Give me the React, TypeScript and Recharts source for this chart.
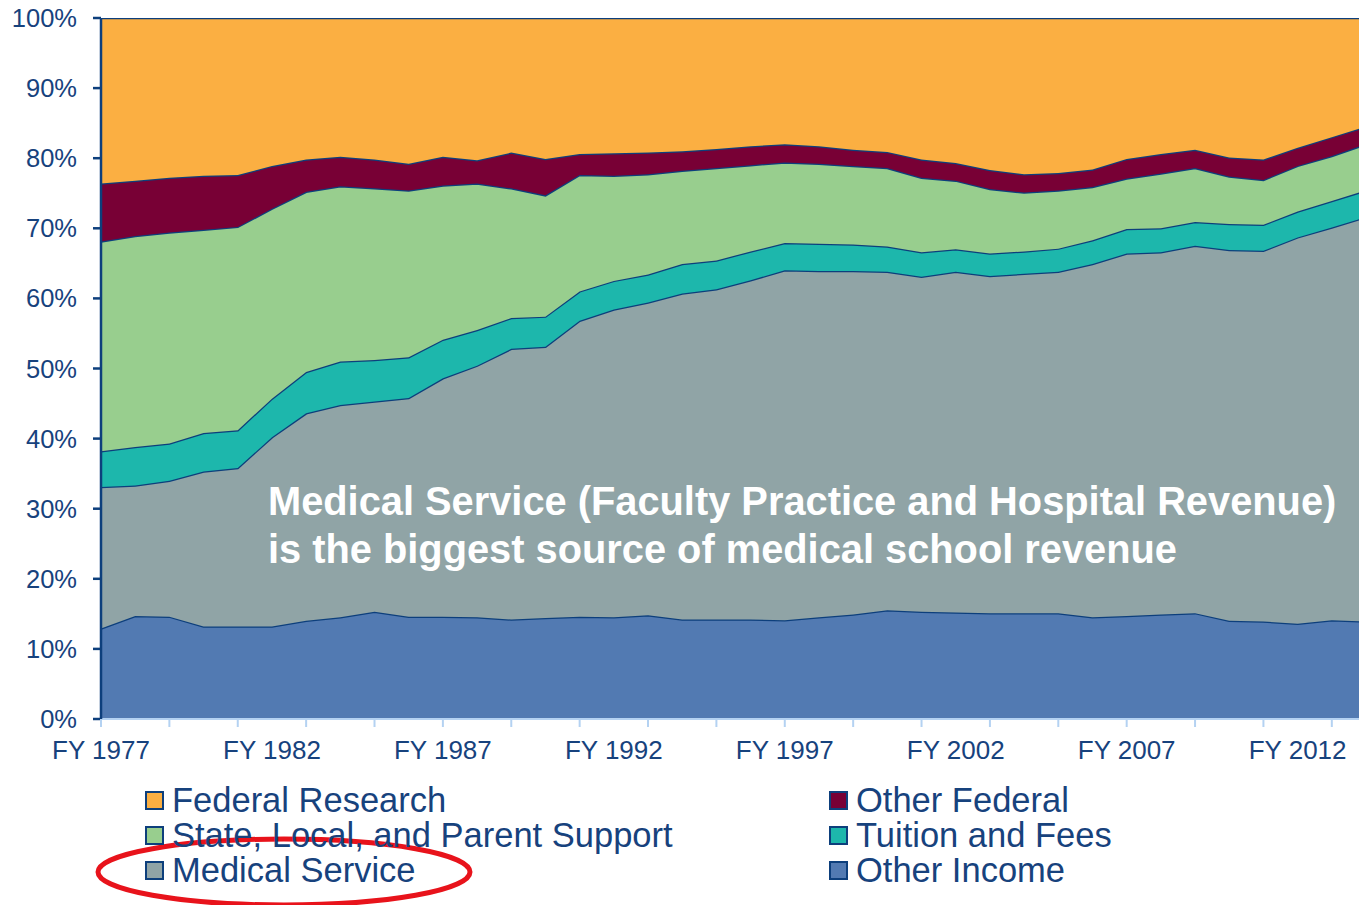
import React from 'react'
import { AreaChart, Area, XAxis, YAxis } from 'recharts'

const years = [
  'FY 1977', 'FY 1978', 'FY 1979', 'FY 1980', 'FY 1981', 'FY 1982', 'FY 1983', 'FY 1984',
  'FY 1985', 'FY 1986', 'FY 1987', 'FY 1988', 'FY 1989', 'FY 1990', 'FY 1991', 'FY 1992',
  'FY 1993', 'FY 1994', 'FY 1995', 'FY 1996', 'FY 1997', 'FY 1998', 'FY 1999', 'FY 2000',
  'FY 2001', 'FY 2002', 'FY 2003', 'FY 2004', 'FY 2005', 'FY 2006', 'FY 2007', 'FY 2008',
  'FY 2009', 'FY 2010', 'FY 2011', 'FY 2012', 'FY 2013', 'FY 2014',
]

// shares of total revenue, %
const otherIncome = [12.9, 14.7, 14.6, 13.2, 13.2, 13.2, 14.0, 14.5, 15.3, 14.6, 14.6, 14.5, 14.2, 14.4, 14.6, 14.5, 14.8, 14.2, 14.2, 14.2, 14.1, 14.5, 14.9, 15.5, 15.3, 15.2, 15.1, 15.1, 15.1, 14.5, 14.7, 14.9, 15.1, 14.0, 13.9, 13.6, 14.1, 13.9]
const medicalService = [20.2, 18.6, 19.4, 22.1, 22.6, 27.0, 29.6, 30.3, 30.0, 31.2, 34.0, 35.9, 38.6, 38.7, 42.2, 43.9, 44.6, 46.5, 47.1, 48.4, 49.9, 49.4, 49.0, 48.3, 47.8, 48.6, 48.1, 48.4, 48.7, 50.4, 51.7, 51.7, 52.4, 52.9, 52.9, 55.1, 56.0, 57.7]
const tuitionFees = [5.1, 5.5, 5.3, 5.5, 5.4, 5.5, 5.9, 6.2, 5.9, 5.8, 5.5, 5.1, 4.4, 4.3, 4.2, 4.1, 4.0, 4.2, 4.1, 4.1, 3.9, 3.9, 3.8, 3.6, 3.5, 3.2, 3.2, 3.2, 3.3, 3.4, 3.5, 3.4, 3.4, 3.7, 3.7, 3.7, 3.8, 3.8]
const stateLocal = [29.9, 30.1, 30.1, 29.0, 29.0, 27.1, 25.7, 25.0, 24.5, 23.8, 22.0, 20.9, 18.5, 17.3, 16.6, 15.0, 14.3, 13.3, 13.2, 12.3, 11.5, 11.4, 11.2, 11.2, 10.6, 9.8, 9.2, 8.4, 8.3, 7.6, 7.2, 7.8, 7.7, 6.8, 6.4, 6.5, 6.4, 6.6]
const otherFederal = [8.3, 7.9, 7.8, 7.7, 7.4, 6.1, 4.6, 4.2, 4.1, 3.8, 4.1, 3.3, 5.1, 5.2, 3.0, 3.2, 3.1, 2.8, 2.7, 2.7, 2.6, 2.5, 2.3, 2.3, 2.6, 2.5, 2.7, 2.6, 2.5, 2.5, 2.8, 2.8, 2.6, 2.7, 2.9, 2.6, 2.7, 2.5]
const federalResearch = [23.6, 23.2, 22.8, 22.5, 22.4, 21.1, 20.2, 19.8, 20.2, 20.8, 19.8, 20.3, 19.2, 20.1, 19.4, 19.3, 19.2, 19.0, 18.7, 18.3, 18.0, 18.3, 18.8, 19.1, 20.2, 20.7, 21.7, 22.3, 22.1, 21.6, 20.1, 19.4, 18.8, 19.9, 20.2, 18.5, 17.0, 15.5]

const yTicks = [0, 10, 20, 30, 40, 50, 60, 70, 80, 90, 100]

const series = [
  { key: 'otherIncome', name: 'Other Income', color: '#527ab2' },
  { key: 'medicalService', name: 'Medical Service', color: '#90a4a6' },
  { key: 'tuitionFees', name: 'Tuition and Fees', color: '#1db7ac' },
  { key: 'stateLocal', name: 'State, Local, and Parent Support', color: '#98ce8e' },
  { key: 'otherFederal', name: 'Other Federal', color: '#780035' },
  { key: 'federalResearch', name: 'Federal Research', color: '#fbaf42' },
]

const legendLeft = ['federalResearch', 'stateLocal', 'medicalService']
const legendRight = ['otherFederal', 'tuitionFees', 'otherIncome']

const data = years.map((year, i) => ({
  year,
  otherIncome: otherIncome[i],
  medicalService: medicalService[i],
  tuitionFees: tuitionFees[i],
  stateLocal: stateLocal[i],
  otherFederal: otherFederal[i],
  federalResearch: federalResearch[i],
}))

const NAVY = '#0d3f7c'
const TEXT = '#17427d'
const FONT = '"Liberation Sans", Arial, sans-serif'

function YearTick(props: any) {
  const { x, y, payload } = props
  const i = years.indexOf(payload.value)
  return (
    <g>
      {i % 2 === 0 && <line x1={x} x2={x} y1={y} y2={y + 8} stroke="#b4d2f2" strokeWidth={2} />}
      {i % 5 === 0 && (
        <text x={x} y={y + 40} textAnchor="middle" fill={TEXT} fontSize={26} fontFamily={FONT}>
          {payload.value}
        </text>
      )}
    </g>
  )
}

function LegendColumn({ keys, left }: { keys: string[]; left: number }) {
  return (
    <div style={{ position: 'absolute', left, top: 783 }}>
      {keys.map(k => {
        const s = series.find(d => d.key === k)!
        return (
          <div key={k} style={{ display: 'flex', alignItems: 'center', height: 35 }}>
            <span style={{ width: 15, height: 15, background: s.color, border: `2px solid ${NAVY}`, marginRight: 8 }} />
            <span style={{ fontSize: 34.5, color: TEXT, fontFamily: FONT, whiteSpace: 'nowrap' }}>{s.name}</span>
          </div>
        )
      })}
    </div>
  )
}

export default function App() {
  return (
    <div style={{ position: 'absolute', left: 0, top: 0, width: 1359, height: 905, overflow: 'hidden', background: '#fff' }}>
      <AreaChart width={1380} height={905} data={data} margin={{ top: 18, right: 14, left: 0, bottom: 146 }}>
        <XAxis
          dataKey="year"
          interval={0}
          height={40}
          tick={<YearTick />}
          tickLine={false}
          tickSize={0}
          tickMargin={0}
          axisLine={{ stroke: '#b4d2f2', strokeWidth: 2 }}
        />
        <YAxis
          width={101}
          domain={[0, 100]}
          ticks={yTicks}
          allowDataOverflow
          tickFormatter={v => `${v}%`}
          tick={{ fill: TEXT, fontSize: 25.5, fontFamily: FONT }}
          tickSize={8}
          tickMargin={16}
          tickLine={{ stroke: NAVY, strokeWidth: 2.5 }}
          axisLine={{ stroke: NAVY, strokeWidth: 2.5 }}
        />
        {series.map(s => (
          <Area
            key={s.key}
            type="linear"
            dataKey={s.key}
            name={s.name}
            stackId="rev"
            fill={s.color}
            fillOpacity={1}
            stroke={NAVY}
            strokeWidth={2.5}
            isAnimationActive={false}
          />
        ))}
      </AreaChart>
      <svg width={1359} height={905} style={{ position: 'absolute', left: 0, top: 0, pointerEvents: 'none' }}>
        <text x={268} y={515} fill="#fff" fontSize={39.8} fontWeight="bold" fontFamily={FONT}>
          Medical Service (Faculty Practice and Hospital Revenue)
        </text>
        <text x={268} y={563} fill="#fff" fontSize={39.8} fontWeight="bold" fontFamily={FONT}>
          is the biggest source of medical school revenue
        </text>
        <ellipse cx={284} cy={872} rx={186} ry={33} fill="none" stroke="#e8131b" strokeWidth={5} />
      </svg>
      <LegendColumn keys={legendLeft} left={145} />
      <LegendColumn keys={legendRight} left={829} />
    </div>
  )
}
